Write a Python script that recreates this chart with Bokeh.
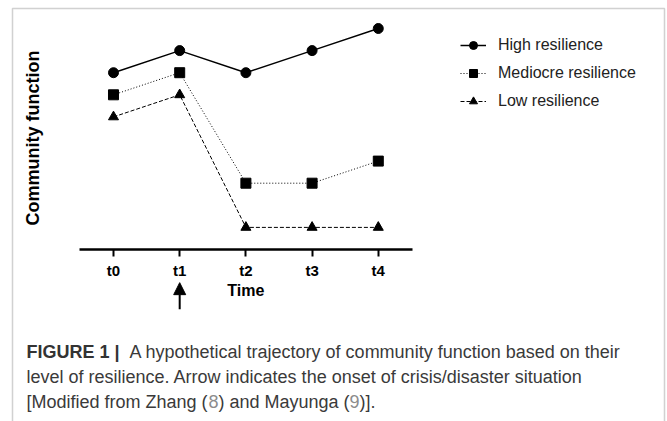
from bokeh.plotting import figure
from bokeh.models import (Range1d, FixedTicker, Legend, LegendItem, Arrow, NormalHead,
                          Label, PolyAnnotation, LinearAxis, ColumnDataSource)
from bokeh.embed import file_html
from bokeh.resources import INLINE
import math

# ---- data ----
times = ["t0", "t1", "t2", "t3", "t4"]
high = [8, 9, 8, 9, 10]
mediocre = [7, 8, 3, 3, 4]
low = [6, 7, 1, 1, 1]
onset_index = 1  # arrow under t1
series_names = ["High resilience", "Mediocre resilience", "Low resilience"]
x_title = "Time"
y_title = "Community function"

x = list(range(len(times)))
src = ColumnDataSource(dict(x=x, high=high, mediocre=mediocre, low=low))

FONT = "Liberation Sans"
W, H = 667, 421

p = figure(width=W, height=H, output_backend="svg", toolbar_location=None,
           x_axis_location=None, y_axis_location=None,
           x_range=Range1d(-1.707, 8.369), y_range=Range1d(-7.783, 11.267),
           min_border=0)
p.min_border_left = p.min_border_right = p.min_border_top = p.min_border_bottom = 0
p.title.visible = False
p.outline_line_color = None
p.grid.visible = False

# x axis drawn at y = 0
xa = LinearAxis(fixed_location=0, ticker=FixedTicker(ticks=x),
                bounds=(-0.515, len(times) - 0.485))
xa.major_label_overrides = {i: t for i, t in enumerate(times)}
xa.minor_tick_line_color = None
xa.axis_line_width = 2.5
xa.axis_line_color = "black"
xa.major_tick_line_width = 2
xa.major_tick_line_color = "black"
xa.major_tick_out = 7
xa.major_tick_in = 0
xa.major_label_text_font = FONT
xa.major_label_text_font_style = "bold"
xa.major_label_text_font_size = "15px"
xa.major_label_text_color = "black"
xa.major_label_standoff = 6
p.add_layout(xa, "below")

# axis titles
p.add_layout(Label(x=(len(times) - 1) / 2, y=-1.86, text=x_title, text_font=FONT,
                   text_font_style="bold", text_font_size="16px", text_color="black",
                   text_align="center", text_baseline="middle"))
p.add_layout(Label(x=32, x_units="screen", y=5.05, text=y_title, text_font=FONT,
                   text_font_style="bold", text_font_size="18px", text_color="black",
                   text_align="center", text_baseline="middle", angle=math.pi / 2))

# series
l1 = p.line("x", "high", source=src, line_color="black", line_width=1.5)
m1 = p.scatter("x", "high", source=src, marker="circle", size=10, color="black")
l2 = p.line("x", "mediocre", source=src, line_color="black", line_width=1, line_dash="1 2")
m2 = p.scatter("x", "mediocre", source=src, marker="square", size=10, color="black")
l3 = p.line("x", "low", source=src, line_color="black", line_width=1, line_dash="4 2")
m3 = p.scatter("x", "low", source=src, marker="triangle", size=10, color="black")

legend = Legend(items=[LegendItem(label=series_names[0], renderers=[l1, m1]),
                       LegendItem(label=series_names[1], renderers=[l2, m2]),
                       LegendItem(label=series_names[2], renderers=[l3, m3])],
                orientation="vertical")
legend.border_line_color = None
legend.background_fill_alpha = 0
legend.label_text_font = FONT
legend.label_text_font_size = "16px"
legend.label_text_color = "#222222"
legend.glyph_width = 26
legend.glyph_height = 20
legend.label_height = 20
legend.spacing = 8
legend.label_standoff = 12
legend.padding = 0
legend.margin = 0
legend.location = (460, 310)
p.add_layout(legend)

# onset arrow (below t1)
p.add_layout(Arrow(x_start=onset_index, y_start=-2.7, x_end=onset_index, y_end=-1.5,
                   line_width=2, line_color="black",
                   end=NormalHead(size=12, fill_color="black", line_color="black")))

# frame box around figure + caption
p.add_layout(PolyAnnotation(xs=[12, 12, 664, 664], ys=[-10, 413, 413, -10],
                            xs_units="screen", ys_units="screen",
                            fill_alpha=0, line_color="#666666", line_width=1.5))

# caption
CAP = dict(text_font=FONT, text_font_size="18px", x_units="screen", y_units="screen",
           text_baseline="alphabetic")
caption = [
    (26, 70, "FIGURE 1 |", "bold", "#333333"),
    (129, 70, "A hypothetical trajectory of community function based on their", "normal", "#3a3a3a"),
    (26, 45, "level of resilience. Arrow indicates the onset of crisis/disaster situation", "normal", "#3a3a3a"),
    (26, 20, "[Modified from Zhang (", "normal", "#3a3a3a"),
    (208, 20, "8", "normal", "#8c8c8c"),
    (218, 20, ") and Mayunga (", "normal", "#3a3a3a"),
    (349, 20, "9", "normal", "#8c8c8c"),
    (359, 20, ")].", "normal", "#3a3a3a"),
]
for cx, cy, txt, style, col in caption:
    p.add_layout(Label(x=cx, y=cy, text=txt, text_font_style=style, text_color=col, **CAP))

open("out.html", "w").write(file_html(p, INLINE))
